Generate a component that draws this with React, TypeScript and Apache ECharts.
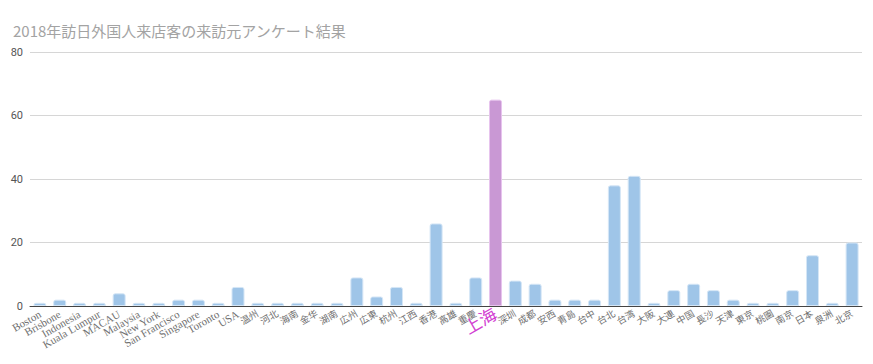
import React, { useEffect, useRef } from "react";
import * as echarts from "echarts";

const categories = [
  "Boston", "Brisbone", "Indonesia", "Kuala Lumpur", "MACAU", "Malaysia", "New York",
  "San Francisco", "Singapore", "Toronto", "USA", "温州", "河北", "海南", "金华", "湖南",
  "広州", "広東", "杭州", "江西", "香港", "高雄", "重慶", "上海", "深圳", "成都", "安西",
  "青島", "台中", "台北", "台湾", "大阪", "大連", "中国", "長沙", "天津", "東京", "桃園",
  "南京", "日本", "泉洲", "北京",
];
const values = [
  1, 2, 1, 1, 4, 1, 1, 2, 2, 1, 6, 1, 1, 1, 1, 1,
  9, 3, 6, 1, 26, 1, 9, 65, 8, 7, 2,
  2, 2, 38, 41, 1, 5, 7, 5, 2, 1, 1,
  5, 16, 1, 20,
];
const highlight = "上海";
const yTicks = [0, 20, 40, 60, 80];

const isLatin = (s: string) => /^[\x00-\x7f]+$/.test(s);

export default function App() {
  const ref = useRef<HTMLDivElement>(null);
  useEffect(() => {
    if (!ref.current) return;
    const chart = echarts.init(ref.current, undefined, { renderer: "svg" });
    chart.setOption({
      animation: false,
      title: {
        text: "2018年訪日外国人来店客の来訪元アンケート結果",
        left: 8,
        top: 18,
        textStyle: { color: "#a3a3a3", fontSize: 15, fontWeight: "normal", fontFamily: "Noto Sans CJK JP" },
      },
      grid: { left: 30, right: 11, top: 52, bottom: 58, containLabel: false },
      xAxis: {
        type: "category",
        data: categories.map((c) =>
          c === highlight
            ? { value: c, textStyle: { color: "#d23fd2", fontSize: 17 } }
            : isLatin(c)
            ? c
            : { value: c, textStyle: { fontSize: 9.5 } }
        ),
        axisTick: { show: false },
        axisLine: { lineStyle: { color: "#444", width: 1 } },
        axisLabel: {
          interval: 0,
          rotate: 30,
          color: "#707070",
          fontSize: 11,
          margin: 7,
          fontFamily: "Liberation Serif, Noto Sans CJK JP",
        },
      },
      yAxis: {
        type: "value",
        min: yTicks[0],
        max: yTicks[yTicks.length - 1],
        interval: 20,
        axisLine: { show: false },
        axisTick: { show: false },
        axisLabel: { color: "#555", fontSize: 11, margin: 7, fontFamily: "Roboto" },
        splitLine: { lineStyle: { color: "#d6d6d6", width: 1 } },
      },
      series: [
        {
          type: "bar",
          barWidth: 13,
          data: values.map((v, i) => ({
            value: v,
            itemStyle:
              categories[i] === highlight
                ? { color: "#c998d4", borderColor: "#e7c4ee", borderWidth: 1, borderRadius: [2, 2, 0, 0] }
                : { color: "#9fc5e8", borderColor: "#d5e6f6", borderWidth: 1, borderRadius: [2, 2, 0, 0] },
          })),
        },
      ],
    });
    return () => chart.dispose();
  }, []);
  return (
    <div
      ref={ref}
      style={{ position: "absolute", left: 0, top: 0, width: 873, height: 364 }}
    />
  );
}
